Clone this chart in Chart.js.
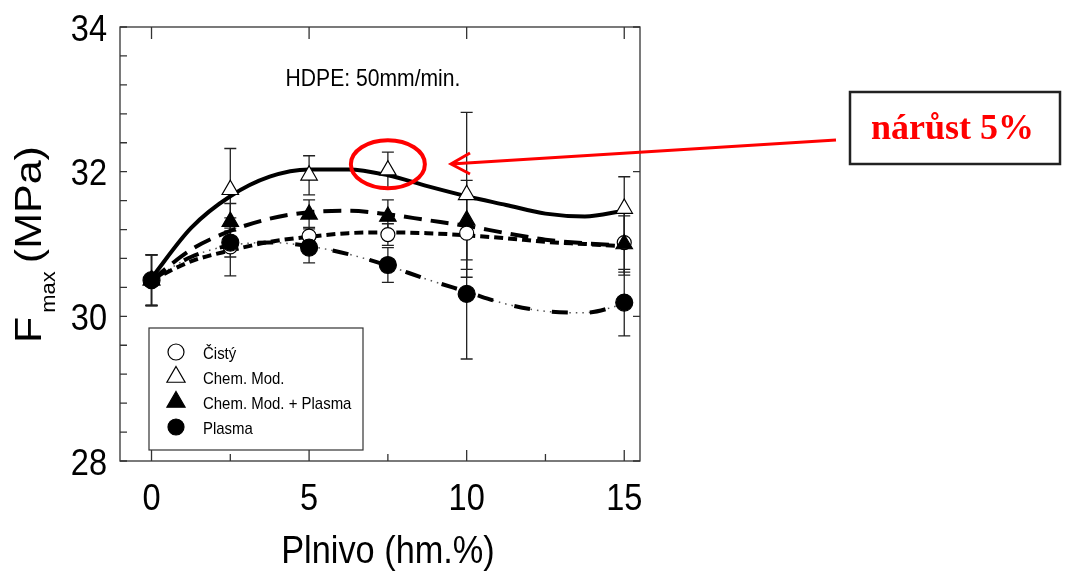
<!DOCTYPE html>
<html>
<head>
<meta charset="utf-8">
<script src="https://cdn.jsdelivr.net/npm/chart.js@4.4.0/dist/chart.umd.min.js"></script>
<style>
  html, body { margin: 0; padding: 0; background: #fff; }
</style>
</head>
<body>
<canvas id="chart-fmax" width="1065" height="575"></canvas>
<script>
// measured points
const fillerPct = [0, 2.5, 5, 7.5, 10, 15];
const cistyVals = [30.50, 30.96, 31.11, 31.13, 31.15, 31.02];
const chemModVals = [30.50, 31.75, 31.95, 32.02, 31.68, 31.49];
const chemPlasmaVals = [30.50, 31.31, 31.41, 31.38, 31.33, 31.00];
const plasmaVals = [30.50, 31.02, 30.95, 30.71, 30.31, 30.19];

// +/- deviation
const cistyErr = [0.35, 0.40, 0.12, 0.15, 0.50, 0.45];
const chemModErr = [0.35, 0.57, 0.27, 0.25, 1.14, 0.44];
const chemPlasmaErr = [0.35, 0.25, 0.20, 0.23, 0.55, 0.39];
const plasmaErr = [0.35, 0.20, 0.21, 0.24, 0.90, 0.46];

// fitted trend curves
const fitX = [0, 1.25, 2.5, 3.75, 5, 6.25, 7.5, 8.75, 10, 11.25, 12.5, 13.75, 15];
const chemModFit = [30.53, 31.22, 31.66, 31.93, 32.03, 32.03, 31.95, 31.80, 31.66, 31.54, 31.42, 31.38, 31.46];
const chemPlasmaFit = [30.50, 30.92, 31.18, 31.35, 31.44, 31.46, 31.41, 31.33, 31.25, 31.15, 31.06, 31.01, 30.98];
const cistyFit = [30.50, 30.76, 30.91, 31.03, 31.10, 31.15, 31.16, 31.15, 31.12, 31.08, 31.03, 31.00, 30.97];
const plasmaFit = [30.50, 30.82, 30.98, 31.02, 30.97, 30.86, 30.70, 30.51, 30.34, 30.17, 30.07, 30.05, 30.17];

// axes
const xTickLabels = [0, 5, 10, 15];
const xMinorTicks = [2.5, 7.5, 12.5];
const yTickLabels = [28, 30, 32, 34];
const yMinorTicks = [28.4, 28.8, 29.2, 29.6, 30.4, 30.8, 31.2, 31.6, 32.4, 32.8, 33.2, 33.6];

const seriesNames = ['Čistý', 'Chem. Mod.', 'Chem. Mod. + Plasma', 'Plasma'];
const noteText = 'nárůst 5%';
const innerTitle = 'HDPE: 50mm/min.';

const SQ = 0.88;   // text is a bit condensed
const SANS = '"Liberation Sans", Arial, sans-serif';

function pts(xs, ys) {
  return xs.map((x, i) => ({ x: x, y: ys[i] }));
}

function squeezeText(ctx, str, x, y, font, align) {
  ctx.save();
  ctx.font = font;
  ctx.textAlign = align || 'left';
  ctx.textBaseline = 'alphabetic';
  ctx.translate(x, y);
  ctx.scale(SQ, 1);
  ctx.fillText(str, 0, 0);
  ctx.restore();
}

const markerStyles = [
  { pointStyle: 'circle', radius: 7, fill: '#fff' },
  { pointStyle: 'triangle', radius: 9.5, fill: '#fff' },
  { pointStyle: 'triangle', radius: 9.5, fill: '#000' },
  { pointStyle: 'circle', radius: 8.5, fill: '#000' }
];
const seriesVals = [cistyVals, chemModVals, chemPlasmaVals, plasmaVals];
const seriesErr = [cistyErr, chemModErr, chemPlasmaErr, plasmaErr];

function markerSet(i) {
  const m = markerStyles[i];
  return {
    label: seriesNames[i],
    data: pts(fillerPct, seriesVals[i]),
    showLine: false,
    pointStyle: m.pointStyle,
    pointRadius: m.radius,
    backgroundColor: m.fill,
    borderColor: '#000',
    borderWidth: 1.2
  };
}

function curveSet(ys, dash, width, color) {
  return {
    data: pts(fitX, ys),
    showLine: true,
    pointRadius: 0,
    borderColor: color || '#000',
    borderWidth: width,
    borderDash: dash,
    cubicInterpolationMode: 'monotone',
    fill: false
  };
}

// error bars under everything else
const errorBars = {
  id: 'errorBars',
  beforeDatasetsDraw(chart) {
    const ctx = chart.ctx, xs = chart.scales.x, ys = chart.scales.y;
    ctx.save();
    ctx.strokeStyle = '#222';
    ctx.lineWidth = 1.3;
    seriesVals.forEach((vals, s) => {
      vals.forEach((v, i) => {
        const e = seriesErr[s][i];
        const px = xs.getPixelForValue(fillerPct[i]);
        const top = ys.getPixelForValue(v + e);
        const bot = ys.getPixelForValue(v - e);
        ctx.beginPath();
        ctx.moveTo(px, top); ctx.lineTo(px, bot);
        ctx.moveTo(px - 6, top); ctx.lineTo(px + 6, top);
        ctx.moveTo(px - 6, bot); ctx.lineTo(px + 6, bot);
        ctx.stroke();
      });
    });
    ctx.restore();
  }
};

// frame, ticks, labels, legend and the note
const decor = {
  id: 'decor',
  afterDraw(chart) {
    const ctx = chart.ctx, a = chart.chartArea;
    const xs = chart.scales.x, ys = chart.scales.y;
    ctx.save();
    ctx.strokeStyle = '#333';
    ctx.lineWidth = 1.3;
    ctx.strokeRect(a.left, a.top, a.right - a.left, a.bottom - a.top);

    ctx.beginPath();
    yMinorTicks.concat(yTickLabels).forEach(v => {
      const py = ys.getPixelForValue(v);
      ctx.moveTo(a.left, py); ctx.lineTo(a.left + 7, py);
    });
    yTickLabels.forEach(v => {
      const py = ys.getPixelForValue(v);
      ctx.moveTo(a.right, py); ctx.lineTo(a.right - 7, py);
    });
    xTickLabels.forEach(v => {
      const px = xs.getPixelForValue(v);
      ctx.moveTo(px, a.bottom); ctx.lineTo(px, a.bottom - 11);
      ctx.moveTo(px, a.top); ctx.lineTo(px, a.top + 12);
    });
    xMinorTicks.forEach(v => {
      const px = xs.getPixelForValue(v);
      ctx.moveTo(px, a.bottom); ctx.lineTo(px, a.bottom - 7);
    });
    ctx.stroke();

    ctx.fillStyle = '#000';
    yTickLabels.forEach(v => {
      squeezeText(ctx, String(v), a.left - 13, ys.getPixelForValue(v) + 13.5, '37px ' + SANS, 'right');
    });
    xTickLabels.forEach(v => {
      squeezeText(ctx, String(v), xs.getPixelForValue(v), 509.5, '37px ' + SANS, 'center');
    });
    squeezeText(ctx, 'Plnivo (hm.%)', 388, 563, '39px ' + SANS, 'center');
    squeezeText(ctx, innerTitle, 373, 86, '24px ' + SANS, 'center');

    // rotated y title with subscript
    ctx.save();
    ctx.translate(40.5, 343);
    ctx.rotate(-Math.PI / 2);
    ctx.scale(1, SQ);
    ctx.textBaseline = 'alphabetic';
    ctx.textAlign = 'left';
    ctx.font = '43px ' + SANS;
    ctx.fillText('F', 0, 0);
    let off = ctx.measureText('F').width + 4;
    ctx.font = '22px ' + SANS;
    ctx.fillText('max', off, 16);
    off += ctx.measureText('max').width + 8;
    ctx.font = '43px ' + SANS;
    ctx.fillText('(MPa)', off, 0);
    ctx.restore();

    // legend
    ctx.lineWidth = 1.2;
    ctx.strokeStyle = '#333';
    ctx.strokeRect(149, 328, 214, 122);
    const rowY = [352, 377, 402, 427];
    markerStyles.forEach((m, i) => {
      ctx.fillStyle = m.fill;
      ctx.strokeStyle = '#000';
      ctx.lineWidth = 1.2;
      Chart.helpers.drawPoint(ctx, {
        pointStyle: m.pointStyle,
        radius: m.pointStyle === 'triangle' ? 10.5 : 8,
        rotation: 0,
        borderWidth: 1.2
      }, 176, rowY[i]);
      ctx.fillStyle = '#000';
      squeezeText(ctx, seriesNames[i], 203, rowY[i] + 6.5, '17px ' + SANS, 'left');
    });

    // note: ring round the 7.5 % Chem. Mod. point, arrow and box
    const cx = xs.getPixelForValue(fillerPct[3]);
    const cy = ys.getPixelForValue(chemModVals[3]) - 6;
    ctx.strokeStyle = '#ff0000';
    ctx.lineWidth = 4;
    ctx.beginPath();
    ctx.ellipse(cx, cy, 37, 24, 0, 0, Math.PI * 2);
    ctx.stroke();

    ctx.lineWidth = 3;
    ctx.beginPath();
    ctx.moveTo(836, 140);
    ctx.lineTo(451, 164);
    ctx.moveTo(470, 153);
    ctx.lineTo(451, 164);
    ctx.lineTo(470, 174);
    ctx.stroke();

    ctx.strokeStyle = '#222';
    ctx.lineWidth = 2.5;
    ctx.strokeRect(850, 92, 210, 72);
    ctx.fillStyle = '#ff0000';
    ctx.font = 'bold 36px "Liberation Serif", "Times New Roman", serif';
    ctx.textAlign = 'left';
    ctx.textBaseline = 'alphabetic';
    ctx.fillText(noteText, 871, 139);
    ctx.restore();
  }
};

// first dataset is painted last, so filled markers sit on top
new Chart(document.querySelector('#chart-fmax'), {
  type: 'scatter',
  data: {
    datasets: [
      markerSet(3),
      markerSet(2),
      markerSet(1),
      markerSet(0),
      curveSet(chemModFit, [], 4),
      curveSet(chemPlasmaFit, [18, 9], 4),
      curveSet(cistyFit, [9, 5], 4),
      curveSet(plasmaFit, [16, 22], 4),
      curveSet(plasmaFit, [1.5, 5], 1.5, '#555')
    ]
  },
  options: {
    responsive: false,
    animation: false,
    devicePixelRatio: 1,
    layout: { padding: { left: 120, top: 27, right: 425, bottom: 114 } },
    scales: {
      x: { type: 'linear', min: -1, max: 15.5, display: false },
      y: { type: 'linear', min: 28, max: 34, display: false }
    },
    plugins: {
      legend: { display: false },
      tooltip: { enabled: false }
    }
  },
  plugins: [errorBars, decor]
});
</script>
</body>
</html>
